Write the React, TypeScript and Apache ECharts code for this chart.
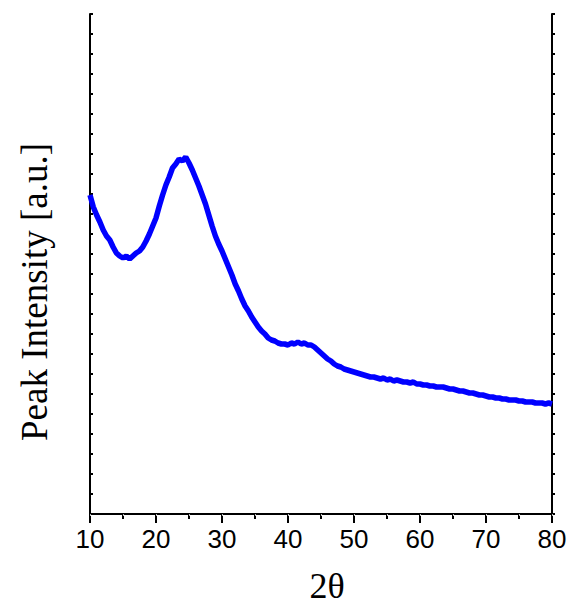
import React, { useEffect, useRef } from "react";
import * as echarts from "echarts";

const angles: number[] = [
  10.0, 10.5, 11.0, 11.5, 12.0, 12.5, 13.0, 13.5, 14.0, 14.5, 15.0, 15.5, 16.0, 16.5, 17.0, 17.5, 18.0, 18.5, 19.0, 19.5,
  20.0, 20.5, 21.0, 21.5, 22.0, 22.5, 23.0, 23.5, 24.0, 24.5, 25.0, 25.5, 26.0, 26.5, 27.0, 27.5, 28.0, 28.5, 29.0, 29.5,
  30.0, 30.5, 31.0, 31.5, 32.0, 32.5, 33.0, 33.5, 34.0, 34.5, 35.0, 35.5, 36.0, 36.5, 37.0, 37.5, 38.0, 38.5, 39.0, 39.5,
  40.0, 40.5, 41.0, 41.5, 42.0, 42.5, 43.0, 43.5, 44.0, 44.5, 45.0, 45.5, 46.0, 46.5, 47.0, 47.5, 48.0, 48.5, 49.0, 49.5,
  50.0, 50.5, 51.0, 51.5, 52.0, 52.5, 53.0, 53.5, 54.0, 54.5, 55.0, 55.5, 56.0, 56.5, 57.0, 57.5, 58.0, 58.5, 59.0, 59.5,
  60.0, 60.5, 61.0, 61.5, 62.0, 62.5, 63.0, 63.5, 64.0, 64.5, 65.0, 65.5, 66.0, 66.5, 67.0, 67.5, 68.0, 68.5, 69.0, 69.5,
  70.0, 70.5, 71.0, 71.5, 72.0, 72.5, 73.0, 73.5, 74.0, 74.5, 75.0, 75.5, 76.0, 76.5, 77.0, 77.5, 78.0, 78.5, 79.0, 79.5,
  80.0,
];

const intensity: number[] = [
  319, 307, 299, 292, 284, 278, 274, 267, 261, 258, 256, 258, 255, 258, 261, 263, 267, 273, 280, 288,
  296, 308, 319, 329, 337, 346, 350, 355, 353, 357, 351, 344, 336, 328, 319, 310, 299, 288, 278, 270,
  263, 255, 247, 239, 230, 223, 215, 208, 203, 197, 192, 187, 183, 180, 176, 174, 173, 171, 170, 170,
  169, 171, 170, 172, 170, 171, 169, 169, 167, 164, 161, 158, 155, 153, 150, 148, 147, 145, 144, 143,
  142, 141, 140, 139, 138, 137, 137, 136, 135, 136, 134, 135, 133, 134, 133, 132, 132, 131, 132, 130,
  130, 129, 129, 128, 128, 127, 127, 127, 126, 125, 125, 124, 123, 123, 122, 121, 121, 120, 119, 119,
  118, 117, 117, 116, 116, 115, 115, 114, 114, 114, 113, 113, 112, 112, 112, 111, 111, 111, 110, 111,
  110,
];

const xTicks = { min: 10, max: 80, interval: 10 };
const yRange = { min: 0, max: 500, interval: 20 };

export default function App() {
  const ref = useRef<HTMLDivElement>(null);
  useEffect(() => {
    if (!ref.current) return;
    const chart = echarts.init(ref.current, undefined, { renderer: "svg" });
    const data = angles.map((a, i) => [a, intensity[i]]);
    const axisLine = { show: true, lineStyle: { color: "#000", width: 2 } };
    chart.setOption({
      animation: false,
      backgroundColor: "#fff",
      grid: { left: 90, right: 21, top: 14, bottom: 92, containLabel: false },
      xAxis: [
        {
          type: "value",
          position: "bottom",
          min: xTicks.min,
          max: xTicks.max,
          interval: xTicks.interval,
          axisLine,
          axisTick: { show: true, inside: false, length: 9, lineStyle: { color: "#000", width: 2 } },
          minorTick: { show: true, splitNumber: 2, length: 5, lineStyle: { color: "#000", width: 2 } },
          splitLine: { show: false },
          axisLabel: {
            show: true,
            margin: 12,
            fontSize: 26,
            color: "#000",
            fontFamily: "'Liberation Sans', Arial, sans-serif",
          },
        },
        {
          type: "value",
          position: "top",
          min: xTicks.min,
          max: xTicks.max,
          interval: 5,
          axisLine,
          axisTick: { show: true, inside: true, length: 2, lineStyle: { color: "#bbb", width: 1 } },
          splitLine: { show: false },
          axisLabel: { show: false },
        },
      ],
      yAxis: [
        {
          type: "value",
          position: "left",
          min: yRange.min,
          max: yRange.max,
          interval: yRange.interval,
          axisLine,
          axisTick: { show: true, inside: true, length: 3, lineStyle: { color: "#000", width: 2 } },
          splitLine: { show: false },
          axisLabel: { show: false },
        },
        {
          type: "value",
          position: "right",
          min: yRange.min,
          max: yRange.max,
          interval: yRange.interval,
          axisLine,
          axisTick: { show: true, inside: false, length: 3, lineStyle: { color: "#000", width: 2 } },
          splitLine: { show: false },
          axisLabel: { show: false },
        },
      ],
      series: [
        {
          type: "line",
          xAxisIndex: 0,
          yAxisIndex: 0,
          data,
          showSymbol: false,
          symbol: "none",
          lineStyle: { color: "#0000ff", width: 5.5 },
        },
      ],
      graphic: [
        {
          type: "text",
          x: 34,
          y: 292,
          rotation: Math.PI / 2,
          style: {
            text: "Peak Intensity [a.u.]",
            font: "37px 'Liberation Serif', 'Times New Roman', serif",
            fill: "#000",
            textAlign: "center",
            textVerticalAlign: "middle",
          },
        },
        {
          type: "text",
          x: 327,
          y: 586,
          style: {
            text: "2θ",
            font: "36px 'Liberation Serif', 'Times New Roman', serif",
            fill: "#000",
            textAlign: "center",
            textVerticalAlign: "middle",
          },
        },
      ],
    });
    return () => chart.dispose();
  }, []);
  return (
    <div
      ref={ref}
      style={{ position: "fixed", left: 0, top: 0, width: 573, height: 606, background: "#fff" }}
    />
  );
}
